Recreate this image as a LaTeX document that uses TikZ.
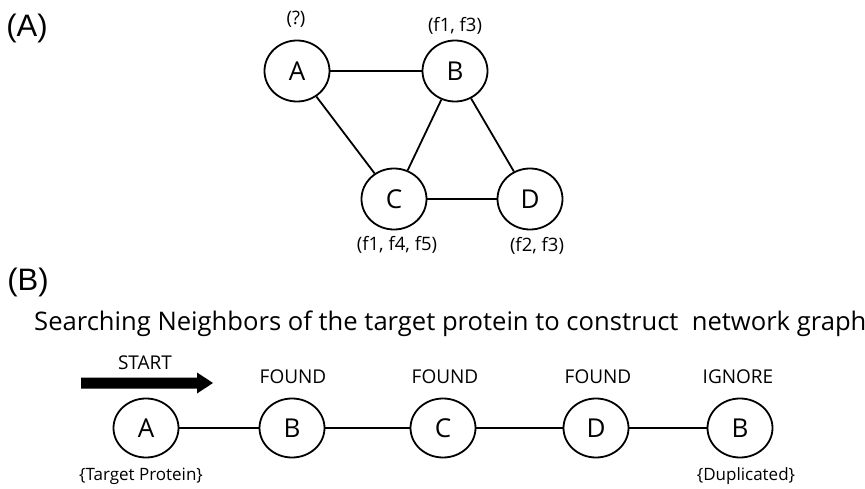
\documentclass[tikz,border=0pt]{standalone}
\usepackage{fontspec}
\usetikzlibrary{shapes.geometric}
\setmainfont{Open Sans}
\newfontfamily\arialfont{Liberation Sans}
\begin{document}
\begin{tikzpicture}[x=1pt,y=-1pt,
  vert/.style={draw,line width=1.8pt,ellipse,minimum width=65pt,minimum height=61pt,inner sep=0pt,font=\fontsize{26}{26}\selectfont},
  feat/.style={font=\fontsize{18.5}{18.5}\selectfont},
  state/.style={font=\fontsize{19}{19}\selectfont},
  note/.style={font=\fontsize{17}{17}\selectfont},
  edge/.style={line width=1.8pt},
  panel/.style={font=\arialfont\fontsize{31}{31}\selectfont}]
\useasboundingbox (0,0) rectangle (865,489);
% Panel A
\node[panel] (pa) at (27,28) {(A)};
\node[vert] (a) at (297,71) {A};
\node[vert] (b) at (455,71) {B};
\node[vert] (c) at (394,199) {C};
\node[vert] (d) at (530,199) {D};
\node[feat] (la) at (296,19) {(?)};
\node[feat] (lb) at (455,26) {(f1, f3)};
\node[feat] (lc) at (397,245) {(f1, f4, f5)};
\node[feat] (ld) at (537,246) {(f2, f3)};
\draw[edge] (a) -- (b);
\draw[edge] (a) -- (c);
\draw[edge] (b) -- (c);
\draw[edge] (b) -- (d);
\draw[edge] (c) -- (d);
% Panel B
\node[panel] (pb) at (28,282) {(B)};
\node[font=\fontsize{25.6}{26}\selectfont,anchor=west,inner sep=0pt] (title) at (34,324) {Searching Neighbors of the target protein to construct\ \ network graph};
\node[vert,minimum height=59pt] (n1) at (146,428) {A};
\node[vert,minimum height=59pt] (n2) at (292,428) {B};
\node[vert,minimum height=59pt] (n3) at (443,428) {C};
\node[vert,minimum height=59pt] (n4) at (596,428) {D};
\node[vert,minimum height=59pt] (n5) at (740,428) {B};
\draw[edge] (n1) -- (n2);
\draw[edge] (n2) -- (n3);
\draw[edge] (n3) -- (n4);
\draw[edge] (n4) -- (n5);
\node[state] (s0) at (145,363) {START};
\node[state] (s2) at (293,377) {FOUND};
\node[state] (s3) at (445,377) {FOUND};
\node[state] (s4) at (598,377) {FOUND};
\node[state] (s5) at (738,377) {IGNORE};
\node[note] (t1) at (141,476) {\{Target Protein\}};
\node[note] (t5) at (746,476) {\{Duplicated\}};
\fill (81,377.5) -- (197,377.5) -- (197,372.5) -- (213,383) -- (197,393.5) -- (197,388.5) -- (81,388.5) -- cycle;
\end{tikzpicture}
\end{document}
